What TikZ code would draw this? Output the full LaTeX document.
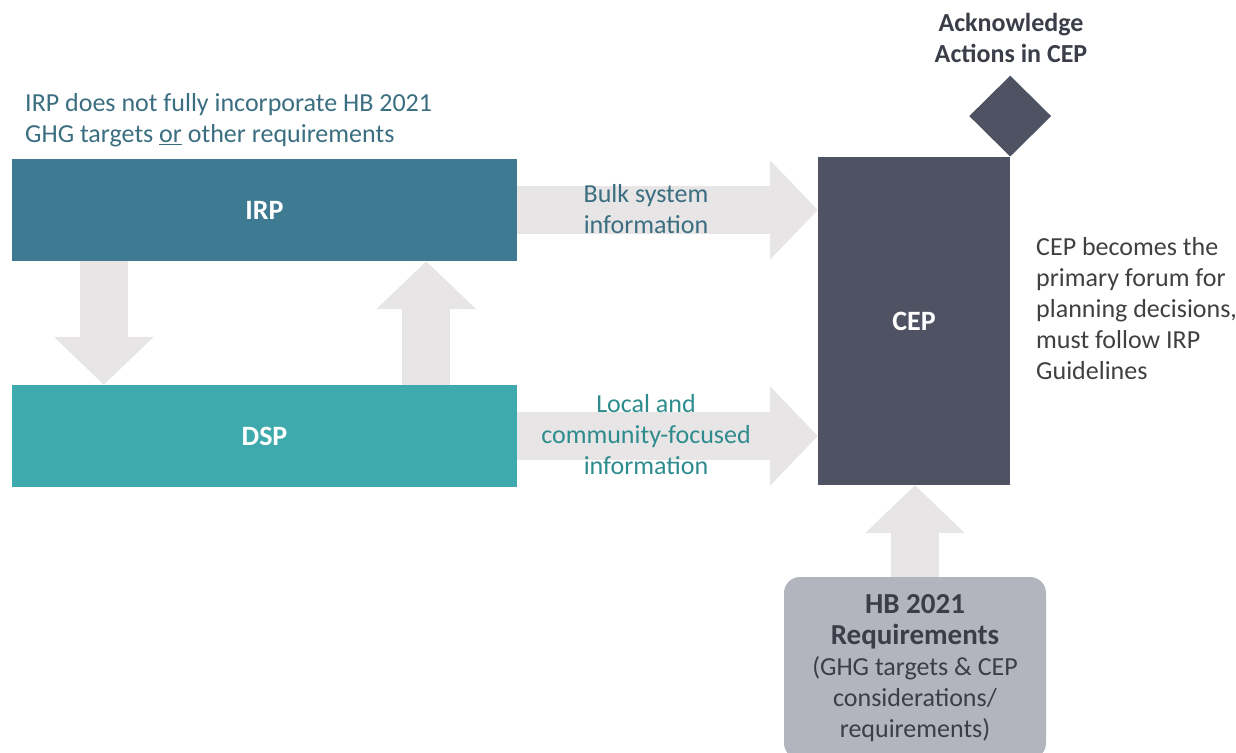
\documentclass[tikz,border=0pt]{standalone}
\usepackage{fontspec}
\setmainfont{Carlito}
\usepackage{xcolor}
\usetikzlibrary{arrows.meta,shapes.geometric}
\definecolor{irpblue}{HTML}{3E7B92}
\definecolor{dspteal}{HTML}{3EAAAD}
\definecolor{cepgray}{HTML}{4E5263}
\definecolor{flowgray}{HTML}{E7E5E5}
\definecolor{hbgray}{HTML}{B2B5BE}
\definecolor{hbtext}{HTML}{3B3D48}
\definecolor{bluetext}{HTML}{3A6E80}
\definecolor{tealtext}{HTML}{2E8C8E}
\definecolor{graytext}{HTML}{404040}
\newcommand{\basefont}{\fontsize{26}{31}\selectfont}
\newcommand{\labelfont}{\fontsize{28}{33}\selectfont\bfseries}
\tikzset{
  box/.style={rectangle, inner sep=0pt, text=white, font=\labelfont},
  flow/.style={draw=flowgray, line width=48pt, -{Triangle[length=48pt,width=97pt]}},
  txt/.style={align=center, inner sep=0pt, font=\basefont},
}

\begin{document}
\begin{tikzpicture}[x=1pt,y=-1pt]
\clip (0,0) rectangle (1236,752);
% boxes
\node[box,fill=irpblue,minimum width=505pt,minimum height=102pt](irp) at (264.5,210){IRP};
\node[box,fill=dspteal,minimum width=505pt,minimum height=102pt](dsp) at (264.5,436){DSP};
\node[box,fill=cepgray,minimum width=192pt,minimum height=328pt](cep) at (914,321){CEP};
\node[diamond,fill=cepgray,inner sep=0pt,minimum width=82pt,minimum height=81pt,anchor=south](ack) at (cep.north east){};
\node[box,fill=hbgray,rounded corners=16pt,minimum width=262pt,minimum height=182pt,text=hbtext,font=\basefont,align=center](hb) at (915,668)
  {{\fontsize{29}{33}\selectfont\bfseries HB 2021}\\{\fontsize{29}{34}\selectfont\bfseries Requirements}\\(GHG targets \& CEP\\considerations/\\requirements)};
% flows
\draw[flow] (irp.east) -- (irp.east -| cep.west);
\draw[flow] (dsp.east) -- (dsp.east -| cep.west);
\draw[flow] ([xshift=92pt]irp.south west) -- ([xshift=92pt]dsp.north west);
\draw[flow] ([xshift=-91pt]dsp.north east) -- ([xshift=-91pt]irp.south east);
\draw[flow] (hb.north) -- (hb.north |- cep.south);
% texts
\node[txt,text=bluetext,align=left,anchor=west](irpnote) at (25,120){IRP does not fully incorporate HB 2021\\GHG targets \underline{or} other requirements};
\node[txt,text=bluetext](bulk) at (646,209){Bulk system\\information};
\node[txt,text=tealtext](local) at (646,435){Local and\\community-focused\\information};
\node[txt,text=graytext,align=left,anchor=west](cepnote) at (1036,309){CEP becomes the\\primary forum for\\planning decisions,\\must follow IRP\\Guidelines};
\node[txt,text=hbtext,font=\basefont\bfseries](acktxt) at (1011,38){Acknowledge\\Actions in CEP};
\end{tikzpicture}
\end{document}
